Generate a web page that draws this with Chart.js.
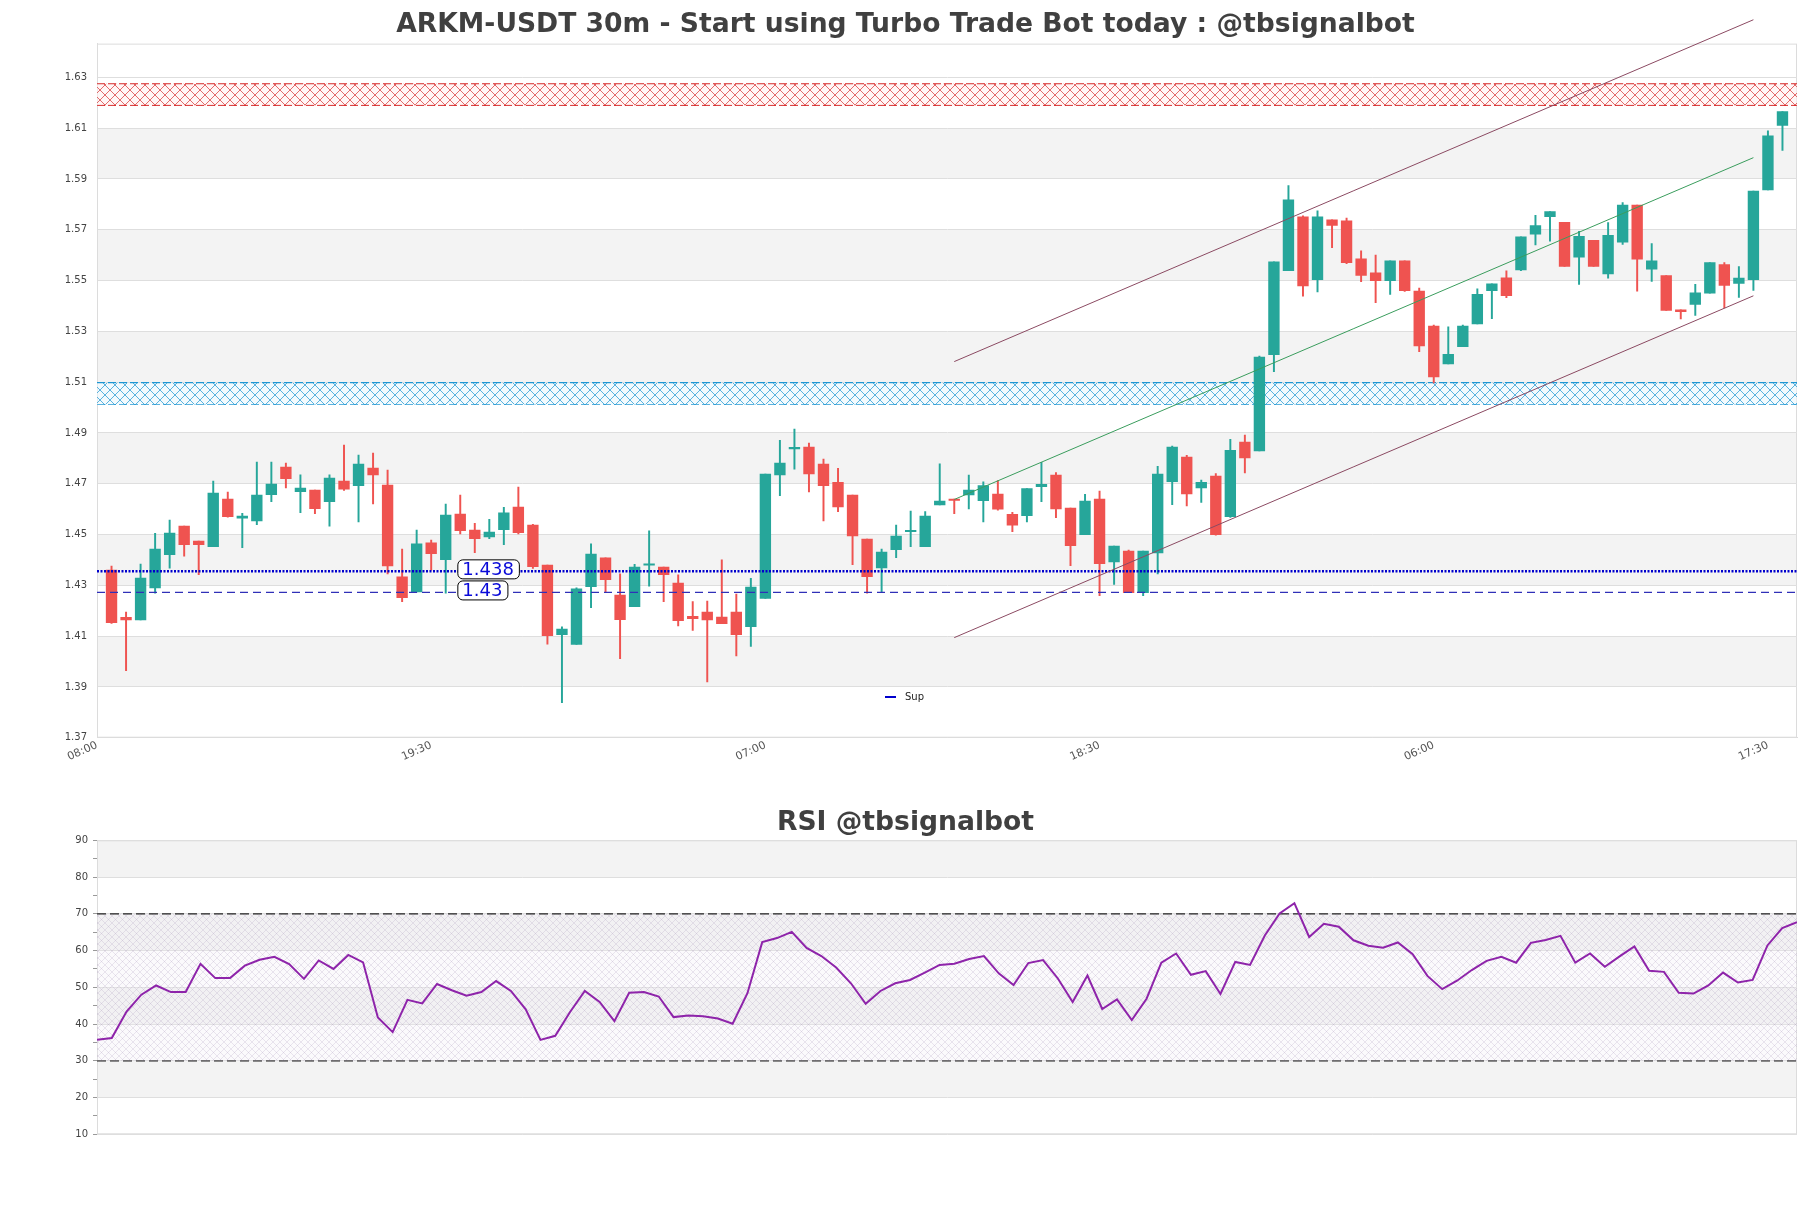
<!DOCTYPE html>
<html><head><meta charset="utf-8">
<script src="https://cdn.jsdelivr.net/npm/chart.js@4.4.1/dist/chart.umd.min.js"></script>
<style>
html,body{margin:0;padding:0;background:#fff;}
#wrap{position:relative;width:1811px;height:1208px;overflow:hidden;}
#main{position:absolute;left:0;top:0;width:1811px;height:790px;}
#rsi{position:absolute;left:0;top:790px;width:1811px;height:418px;}
</style></head><body>
<div id="wrap"><canvas id="main" width="1811" height="790"></canvas><canvas id="rsi" width="1811" height="418"></canvas></div>
<script>
// ---------------- DATA ----------------
const mainTitle = 'ARKM-USDT 30m - Start using Turbo Trade Bot today : @tbsignalbot';
const rsiTitle = 'RSI @tbsignalbot';

const opens = [1.436,1.4174,1.4164,1.429,1.4421,1.4533,1.4474,1.4452,1.464,1.4564,
1.4554,1.4657,1.4766,1.4669,1.4675,1.4629,1.471,1.4692,1.4762,1.4695,
1.4333,1.4274,1.4467,1.4401,1.4581,1.4518,1.4491,1.4519,1.4608,1.4537,
1.438,1.4106,1.4067,1.4295,1.4408,1.4262,1.4216,1.4379,1.4372,1.4309,
1.4178,1.4195,1.4175,1.4195,1.4137,1.4248,1.4735,1.4837,1.4844,1.4777,
1.4706,1.4655,1.4482,1.4369,1.444,1.4511,1.4452,1.4617,1.464,1.4656,
1.4633,1.4659,1.458,1.4574,1.4688,1.4734,1.4604,1.4499,1.464,1.4392,
1.4435,1.4271,1.4428,1.4708,1.4805,1.4684,1.473,1.457,1.4864,1.4829,
1.5208,1.5539,1.5751,1.5504,1.5739,1.5735,1.5586,1.553,1.55,1.5578,
1.5459,1.5321,1.5172,1.524,1.5329,1.546,1.5511,1.5542,1.5683,1.5752,
1.5729,1.5592,1.5658,1.5526,1.5651,1.5797,1.5545,1.552,1.5385,1.5406,
1.545,1.5563,1.5489,1.5504,1.5857,1.6111];
const highs = [1.4376,1.4195,1.4384,1.4505,1.4557,1.4533,1.4474,1.471,1.4667,1.4583,
1.4785,1.4785,1.4781,1.4735,1.4675,1.4735,1.4852,1.4813,1.4821,1.4754,
1.4443,1.4518,1.4478,1.462,1.4655,1.4544,1.456,1.4607,1.4687,1.454,
1.438,1.4137,1.429,1.4463,1.4408,1.4345,1.4383,1.4515,1.4372,1.4341,
1.4236,1.4238,1.44,1.4266,1.4328,1.4738,1.4871,1.4915,1.486,1.4797,
1.4761,1.4655,1.4482,1.4443,1.4537,1.4592,1.459,1.4778,1.464,1.4734,
1.4708,1.4712,1.4587,1.4681,1.4784,1.4744,1.4604,1.4658,1.4671,1.4455,
1.4439,1.4435,1.4769,1.4848,1.4812,1.4714,1.474,1.4875,1.4892,1.5203,
1.5574,1.5874,1.5755,1.5775,1.5739,1.5746,1.5617,1.56,1.5578,1.5578,
1.547,1.5325,1.5318,1.5325,1.5467,1.5487,1.5538,1.5672,1.5757,1.5772,
1.5729,1.5694,1.5658,1.5728,1.5807,1.5797,1.5646,1.552,1.5385,1.5485,
1.5571,1.5571,1.5555,1.5852,1.609,1.6165];
const lows = [1.415,1.3964,1.4164,1.4269,1.4368,1.4415,1.4342,1.4452,1.4568,1.4448,
1.4539,1.4629,1.4684,1.4586,1.4582,1.4533,1.4674,1.455,1.4621,1.4345,
1.4236,1.4274,1.436,1.4269,1.4502,1.4429,1.4484,1.446,1.4502,1.4367,
1.4068,1.3838,1.4067,1.4212,1.4272,1.4011,1.4216,1.4297,1.4236,1.414,
1.4122,1.392,1.4149,1.4022,1.4059,1.4248,1.4653,1.4757,1.4668,1.4554,
1.459,1.4381,1.4269,1.4271,1.4409,1.4452,1.4452,1.4617,1.4582,1.4601,
1.455,1.4596,1.4511,1.455,1.4629,1.4566,1.4377,1.4499,1.4259,1.4304,
1.4271,1.4259,1.4345,1.4618,1.4613,1.4626,1.4497,1.4567,1.4743,1.4829,
1.5141,1.5539,1.5439,1.5455,1.563,1.5567,1.5496,1.5413,1.5445,1.5457,
1.522,1.5097,1.5172,1.524,1.5329,1.535,1.5433,1.5539,1.564,1.5655,
1.5556,1.5485,1.5556,1.5509,1.5642,1.5458,1.5497,1.5382,1.5349,1.5363,
1.545,1.5392,1.5434,1.5461,1.5857,1.6012];
const closes = [1.4153,1.4164,1.4329,1.4443,1.4506,1.446,1.446,1.4663,1.457,1.4573,
1.4655,1.4699,1.472,1.4683,1.4602,1.4722,1.4679,1.4777,1.4735,1.4376,
1.4251,1.4463,1.4425,1.4577,1.4515,1.4484,1.451,1.4585,1.4507,1.4373,
1.4102,1.4128,1.4286,1.4423,1.4322,1.4165,1.4372,1.4384,1.4342,1.4161,
1.4169,1.4164,1.4149,1.4106,1.4293,1.4738,1.4781,1.4843,1.4739,1.4692,
1.4609,1.4495,1.4334,1.4431,1.4494,1.4514,1.4573,1.4632,1.4634,1.4675,
1.4693,1.46,1.4537,1.4681,1.4698,1.4601,1.4456,1.4632,1.4385,1.4455,
1.4271,1.4435,1.4738,1.4844,1.466,1.4706,1.4499,1.4832,1.4802,1.5199,
1.5574,1.5818,1.5479,1.5751,1.5717,1.557,1.552,1.55,1.5578,1.546,
1.5243,1.5121,1.521,1.5321,1.5446,1.5487,1.5441,1.5672,1.5717,1.5772,
1.5556,1.5674,1.5556,1.5678,1.5797,1.5584,1.5578,1.5382,1.5378,1.5452,
1.5571,1.5481,1.551,1.5852,1.607,1.6165];

const rsiValues = [35.7,36.2,43.4,48.0,50.5,48.7,48.7,56.4,52.5,52.5,
55.9,57.5,58.3,56.3,52.3,57.3,55.0,58.8,56.8,41.8,
37.8,46.6,45.6,50.9,49.2,47.7,48.7,51.7,49.0,44.0,
35.7,36.8,43.3,49.0,46.0,40.8,48.5,48.7,47.5,41.9,
42.3,42.1,41.5,40.1,48.4,62.3,63.4,65.1,60.7,58.5,
55.4,51.1,45.5,49.0,51.1,52.0,54.0,56.1,56.4,57.7,
58.5,53.8,50.6,56.6,57.4,52.4,46.0,53.2,44.1,46.7,
41.1,46.9,56.7,59.2,53.4,54.4,48.2,56.9,56.1,64.1,
70.1,72.9,63.7,67.3,66.5,62.8,61.3,60.8,62.2,59.0,
53.1,49.5,51.8,54.7,57.2,58.3,56.7,62.1,62.9,64.0,
56.7,59.2,55.6,58.4,61.1,54.5,54.2,48.5,48.3,50.5,
54.0,51.3,52.0,61.4,66.1,67.7];

const yTicks = [1.37,1.39,1.41,1.43,1.45,1.47,1.49,1.51,1.53,1.55,1.57,1.59,1.61,1.63];
const yMin = 1.37, yMax = 1.6433;
const xTickIdx = [-1,22,45,68,91,114];
const xTickLabels = ['08:00','19:30','07:00','18:30','06:00','17:30'];

const resZone = [1.619, 1.6275];
const supZone = [1.5012, 1.5098];
const supLevel = 1.4355, supText = '1.438';
const sup2Level = 1.4272, sup2Text = '1.43';
const channelX = [58, 113];
const channelUpper = [1.5181, 1.6527];
const channelMid = [1.4638, 1.5984];
const channelLower = [1.4094, 1.5440];

const rsiTicks = [10,15,20,25,30,35,40,45,50,55,60,65,70,75,80,85,90];
const rsiBandTicks = [10,20,30,40,50,60,70,80,90];
const rsiLevels = [30, 70];

// ---------------- STYLE HELPERS ----------------
Chart.defaults.font.family = '"DejaVu Sans", sans-serif';
const GREEN = '#26a69a', RED = '#ef5350';
function hatch(color, bg, size, lw) {
  const c = document.createElement('canvas'); c.width = size; c.height = size;
  const g = c.getContext('2d');
  if (bg) { g.fillStyle = bg; g.fillRect(0, 0, size, size); }
  g.strokeStyle = color; g.lineWidth = lw;
  g.beginPath(); g.moveTo(0, 0); g.lineTo(size, size); g.moveTo(size, 0); g.lineTo(0, size); g.stroke();
  return g.createPattern(c, 'repeat');
}
const redHatch = hatch('rgba(214,40,40,0.85)', 'rgba(255,240,240,0.6)', 10, 0.8);
const blueHatch = hatch('rgba(30,150,210,0.9)', 'rgba(235,246,252,0.6)', 10, 0.8);
const rsiHatch = hatch('rgba(150,130,170,0.32)', 'rgba(238,234,242,0.25)', 7, 0.6);

const N = opens.length;
const idx = opens.map((_, i) => i);
const candleColors = idx.map(i => closes[i] >= opens[i] ? GREEN : RED);
const xLo = -1, xHi = N;
const spanLine = v => [{x: xLo, y: v}, {x: xHi, y: v}];
const seg = (ys) => [{x: channelX[0], y: ys[0]}, {x: channelX[1], y: ys[1]}];

const bandsPlugin = {
  id: 'bands',
  beforeDraw(chart, args, opts) {
    const {ctx, chartArea: a} = chart; const ys = chart.scales.y; const t = opts.ticks;
    ctx.save(); ctx.fillStyle = opts.color;
    for (let k = 1; k + 1 < t.length; k += 2) {
      const y1 = ys.getPixelForValue(t[k + 1]), y0 = ys.getPixelForValue(t[k]);
      ctx.fillRect(a.left, y1, a.right - a.left, y0 - y1);
    }
    ctx.strokeStyle = '#dcdcdc'; ctx.lineWidth = 1;
    ctx.strokeRect(a.left + 0.5, a.top + 0.5, a.right - a.left - 1, a.bottom - a.top - 1);
    ctx.restore();
  }
};

const labelAtIndex = 23.8;
const annotPlugin = {
  id: 'annot',
  afterDatasetsDraw(chart) {
    const {ctx, chartArea: a, scales: {x, y}} = chart;
    ctx.save();
    ctx.font = '18px "DejaVu Sans"';
    ctx.textBaseline = 'middle';
    [[supLevel, supText], [sup2Level, sup2Text]].forEach(([val, txt]) => {
      const yc = y.getPixelForValue(val) - 2.5;
      const xl = x.getPixelForValue(labelAtIndex);
      const w = ctx.measureText(txt).width + 10, h = 19;
      ctx.beginPath(); ctx.roundRect(xl + 0.5, yc - h / 2 + 0.5, w, h, 5);
      ctx.fillStyle = '#ffffff'; ctx.fill();
      ctx.lineWidth = 1; ctx.strokeStyle = '#000'; ctx.stroke();
      ctx.fillStyle = '#0a0ad8'; ctx.fillText(txt, xl + 5, yc + 1);
    });
    // legend
    const lx = a.left + 788, ly = a.bottom - 40.7;
    ctx.strokeStyle = '#0000cd'; ctx.lineWidth = 2;
    ctx.beginPath(); ctx.moveTo(lx, ly); ctx.lineTo(lx + 11, ly); ctx.stroke();
    ctx.font = '10px "DejaVu Sans"'; ctx.fillStyle = '#222';
    ctx.fillText('Sup', lx + 20, ly);
    ctx.restore();
  }
};

const rightSpacer = {position: 'right', display: true, afterFit: s => { s.width = 14; },
  grid: {display: false}, border: {display: false}, ticks: {display: false}};

// ---------------- MAIN CHART ----------------
new Chart(document.getElementById('main'), {
  type: 'bar',
  data: {
    datasets: [
      {type: 'line', label: 'resTop', data: spanLine(resZone[1]), borderColor: '#d62828', borderWidth: 1.2, borderDash: [8, 3], backgroundColor: redHatch, fill: '+1', pointRadius: 0, order: 10},
      {type: 'line', label: 'resBot', data: spanLine(resZone[0]), borderColor: '#d62828', borderWidth: 1.2, borderDash: [8, 3], fill: false, pointRadius: 0, order: 10},
      {type: 'line', label: 'zoneTop', data: spanLine(supZone[1]), borderColor: '#1e96d2', borderWidth: 1.2, borderDash: [8, 3], backgroundColor: blueHatch, fill: '+1', pointRadius: 0, order: 9},
      {type: 'line', label: 'zoneBot', data: spanLine(supZone[0]), borderColor: '#1e96d2', borderWidth: 1.2, borderDash: [8, 3], fill: false, pointRadius: 0, order: 9},
      {type: 'bar', label: 'wicks', data: idx.map(i => ({x: i, y: [lows[i], highs[i]]})), backgroundColor: candleColors, barThickness: 1.3, grouped: false, order: 6},
      {type: 'bar', label: 'bodies', data: idx.map(i => ({x: i, y: [opens[i], closes[i]]})), backgroundColor: candleColors, barThickness: 10.7, minBarLength: 1.5, grouped: false, order: 5},
      {type: 'line', label: 'Sup', data: spanLine(supLevel), borderColor: '#0000cd', borderWidth: 2.5, borderDash: [2, 1.5], pointRadius: 0, fill: false, order: 3},
      {type: 'line', label: 'Sup2', data: spanLine(sup2Level), borderColor: '#3030b8', borderWidth: 1.3, borderDash: [8, 5], pointRadius: 0, fill: false, order: 3},
      {type: 'line', label: 'upper', data: seg(channelUpper), borderColor: '#8b4a62', borderWidth: 1, pointRadius: 0, fill: false, clip: false, order: 1},
      {type: 'line', label: 'mid', data: seg(channelMid), borderColor: '#3a9d5d', borderWidth: 1, pointRadius: 0, fill: false, clip: false, order: 1},
      {type: 'line', label: 'lower', data: seg(channelLower), borderColor: '#8b4a62', borderWidth: 1, pointRadius: 0, fill: false, clip: false, order: 1}
    ]
  },
  options: {
    responsive: false, animation: false, devicePixelRatio: 1,
    layout: {padding: {left: 0, right: 0, top: 0, bottom: 0}},
    plugins: {
      legend: {display: false}, tooltip: {enabled: false},
      title: {display: true, text: mainTitle, color: '#404040', font: {size: 26.6, weight: 'bold'}, padding: {top: 9.3, bottom: 2.4}},
      bands: {ticks: yTicks, color: '#f3f3f3'}
    },
    scales: {
      x: {type: 'linear', min: xLo, max: xHi, offset: false,
        grid: {display: false}, border: {display: true, color: '#dcdcdc'},
        afterBuildTicks: s => { s.ticks = xTickIdx.map(v => ({value: v})); },
        afterFit: s => { s.height = 52.3; },
        ticks: {autoSkip: false, minRotation: 24, maxRotation: 24, padding: -7, labelOffset: 0, color: '#555', font: {size: 11},
          callback: v => { const k = xTickIdx.indexOf(v); return k >= 0 ? xTickLabels[k] : ''; }}},
      y: {type: 'linear', position: 'left', min: yMin, max: yMax,
        afterBuildTicks: s => { s.ticks = yTicks.map(v => ({value: v})); },
        afterFit: s => { s.width = 97; },
        grid: {color: '#dedede', drawTicks: false}, border: {display: true, color: '#dcdcdc'},
        ticks: {padding: 10, color: '#444', font: {size: 10}, callback: v => v.toFixed(2)}},
      yR: rightSpacer
    }
  },
  plugins: [bandsPlugin, annotPlugin]
});

// ---------------- RSI CHART ----------------
const rsiSpan = v => [{x: 0, y: v}, {x: rsiValues.length - 1, y: v}];
new Chart(document.getElementById('rsi'), {
  type: 'line',
  data: {
    datasets: [
      {label: 'RSI', data: rsiValues.map((v, i) => ({x: i, y: v})), borderColor: '#8e24aa', borderWidth: 2, pointRadius: 0, fill: false, order: 1, yAxisID: 'y'},
      {label: 'ob', data: rsiSpan(rsiLevels[1]), borderColor: '#222', borderWidth: 1.3, borderDash: [9, 4], backgroundColor: rsiHatch, fill: '+1', pointRadius: 0, order: 5, yAxisID: 'y'},
      {label: 'os', data: rsiSpan(rsiLevels[0]), borderColor: '#222', borderWidth: 1.3, borderDash: [9, 4], fill: false, pointRadius: 0, order: 5, yAxisID: 'y'}
    ]
  },
  options: {
    responsive: false, animation: false, devicePixelRatio: 1,
    layout: {padding: {left: 0, right: 0, top: 0, bottom: 73.7}},
    plugins: {
      legend: {display: false}, tooltip: {enabled: false},
      title: {display: true, text: rsiTitle, color: '#404040', font: {size: 26.6, weight: 'bold'}, padding: {top: 16.7, bottom: 1.7}},
      bands: {ticks: rsiBandTicks, color: '#f3f3f3'}
    },
    scales: {
      x: {type: 'linear', min: 0, max: rsiValues.length - 1, display: false},
      y: {type: 'linear', position: 'left', min: 10, max: 90,
        afterBuildTicks: s => { s.ticks = rsiTicks.map(v => ({value: v})); },
        afterFit: s => { s.width = 97; },
        grid: {color: c => (c.tick && c.tick.value % 10 === 0) ? '#dedede' : 'rgba(0,0,0,0)', tickColor: '#999', tickLength: 4, drawTicks: true},
        border: {display: true, color: '#dcdcdc'},
        ticks: {padding: 5, color: '#444', font: {size: 10}, callback: v => (v % 10 === 0 ? String(v) : '')}},
      yR: rightSpacer
    }
  },
  plugins: [bandsPlugin]
});
</script>
</body></html>
